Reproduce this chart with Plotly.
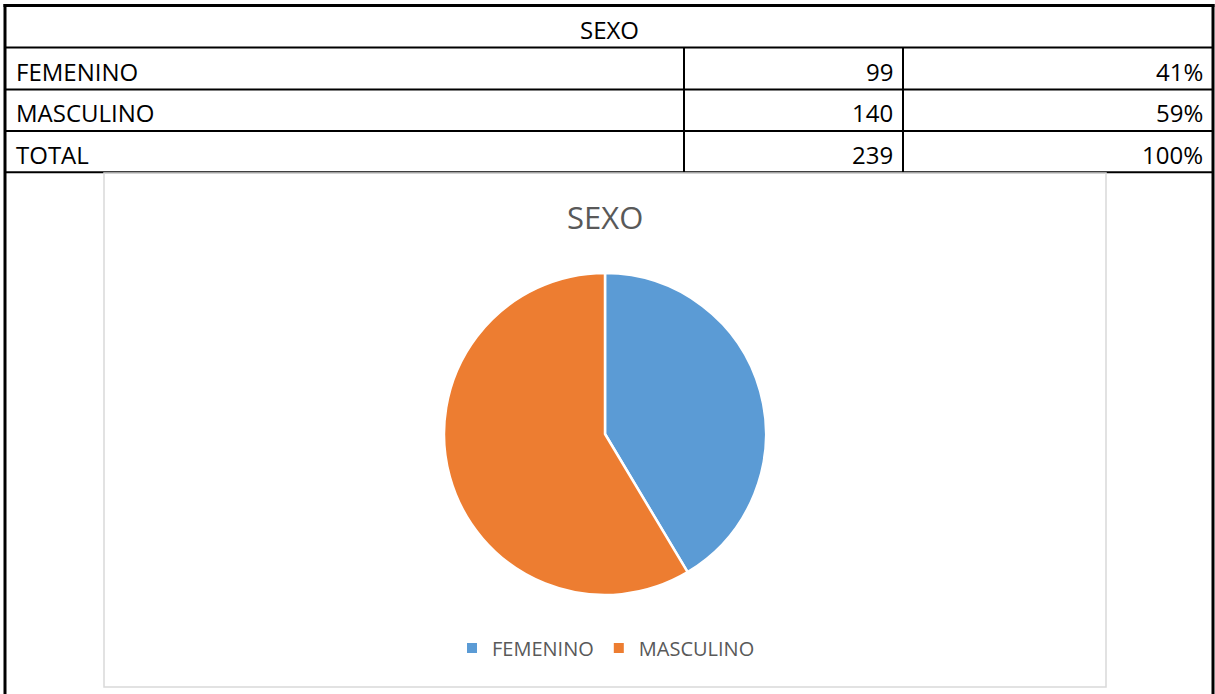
import plotly.graph_objects as go

TITLE = "SEXO"
CATEGORIES = ["FEMENINO", "MASCULINO"]
COUNTS = [99, 140]
TOTAL_LABEL = "TOTAL"

COLORS = ["#5B9BD5", "#ED7D31"]
TEXT_GREY = "#595959"
FONT = "Open Sans, Noto Sans, sans-serif"

W, H = 1215, 694


def px(x):
    return x / W


def py(y):
    return 1 - y / H


total = sum(COUNTS)
percents = [f"{round(c / total * 100)}%" for c in COUNTS]

rows = list(zip(CATEGORIES, [str(c) for c in COUNTS], percents))
rows.append((TOTAL_LABEL, str(total), f"{round(sum(COUNTS) / total * 100)}%"))

# table grid (pixel positions)
ROW_LINES = [47.5, 89.5, 131, 172.3]
ROW_CENTERS = [71.5, 113, 154]
COL_LINES = [684, 903]
LEFT, RIGHT, TOP = 5, 1213, 5.5

shapes = []


def line(x0, y0, x1, y1, width, color="black"):
    shapes.append(
        dict(
            type="line",
            xref="paper",
            yref="paper",
            x0=px(x0),
            y0=py(y0),
            x1=px(x1),
            y1=py(y1),
            line=dict(color=color, width=width),
        )
    )


# outer border
line(LEFT, TOP - 1.5, LEFT, H + 5, 3)
line(RIGHT, TOP - 1.5, RIGHT, H + 5, 3)
line(LEFT - 1.5, TOP, RIGHT + 1.5, TOP, 3)
for y in ROW_LINES:
    line(LEFT, y, RIGHT, y, 2)
for x in COL_LINES:
    line(x, ROW_LINES[0], x, ROW_LINES[-1], 2)

# chart box
shapes.append(
    dict(
        type="rect",
        xref="paper",
        yref="paper",
        x0=px(104),
        y0=py(687),
        x1=px(1106),
        y1=py(173),
        line=dict(color="#d9d9d9", width=1.5),
        fillcolor="rgba(0,0,0,0)",
    )
)

annotations = [
    dict(
        text=TITLE,
        x=px(609),
        y=py(30),
        xanchor="center",
        yanchor="middle",
        font=dict(size=24, color="black", family=FONT),
    ),
    dict(
        text=TITLE,
        x=px(605),
        y=py(217),
        xanchor="center",
        yanchor="middle",
        font=dict(size=31, color=TEXT_GREY, family=FONT),
    ),
]

for (label, count, pct), yc in zip(rows, ROW_CENTERS):
    annotations.append(
        dict(text=label, x=px(14), y=py(yc), xanchor="left", yanchor="middle",
             font=dict(size=24, color="black", family=FONT))
    )
    annotations.append(
        dict(text=count, x=px(895), y=py(yc), xanchor="right", yanchor="middle",
             font=dict(size=24, color="black", family=FONT))
    )
    annotations.append(
        dict(text=pct, x=px(1205), y=py(yc), xanchor="right", yanchor="middle",
             font=dict(size=24, color="black", family=FONT))
    )

for a in annotations:
    a.update(xref="paper", yref="paper", showarrow=False)

# pie centre (605, 434), radius 161
fig = go.Figure(
    go.Pie(
        labels=CATEGORIES,
        values=COUNTS,
        sort=False,
        direction="clockwise",
        rotation=0,
        textinfo="none",
        marker=dict(colors=COLORS, line=dict(color="white", width=2.5)),
        domain=dict(x=[px(605 - 161), px(605 + 161)], y=[py(434 + 161), py(434 - 161)]),
        hovertemplate="%{label}: %{value} (%{percent})<extra></extra>",
    )
)

fig.update_layout(
    width=W,
    height=H,
    margin=dict(l=0, r=0, t=0, b=0),
    paper_bgcolor="white",
    plot_bgcolor="white",
    shapes=shapes,
    annotations=annotations,
    showlegend=True,
    legend=dict(
        orientation="h",
        x=px(606),
        y=py(648),
        xanchor="center",
        yanchor="middle",
        font=dict(size=20, color=TEXT_GREY, family=FONT),
        bgcolor="rgba(0,0,0,0)",
        itemsizing="constant",
    ),
)

fig.write_html(
    "out.html",
    config={"displayModeBar": False},
    post_script="document.body.style.margin='0';document.body.style.padding='0';document.body.style.overflow='hidden';",
)
